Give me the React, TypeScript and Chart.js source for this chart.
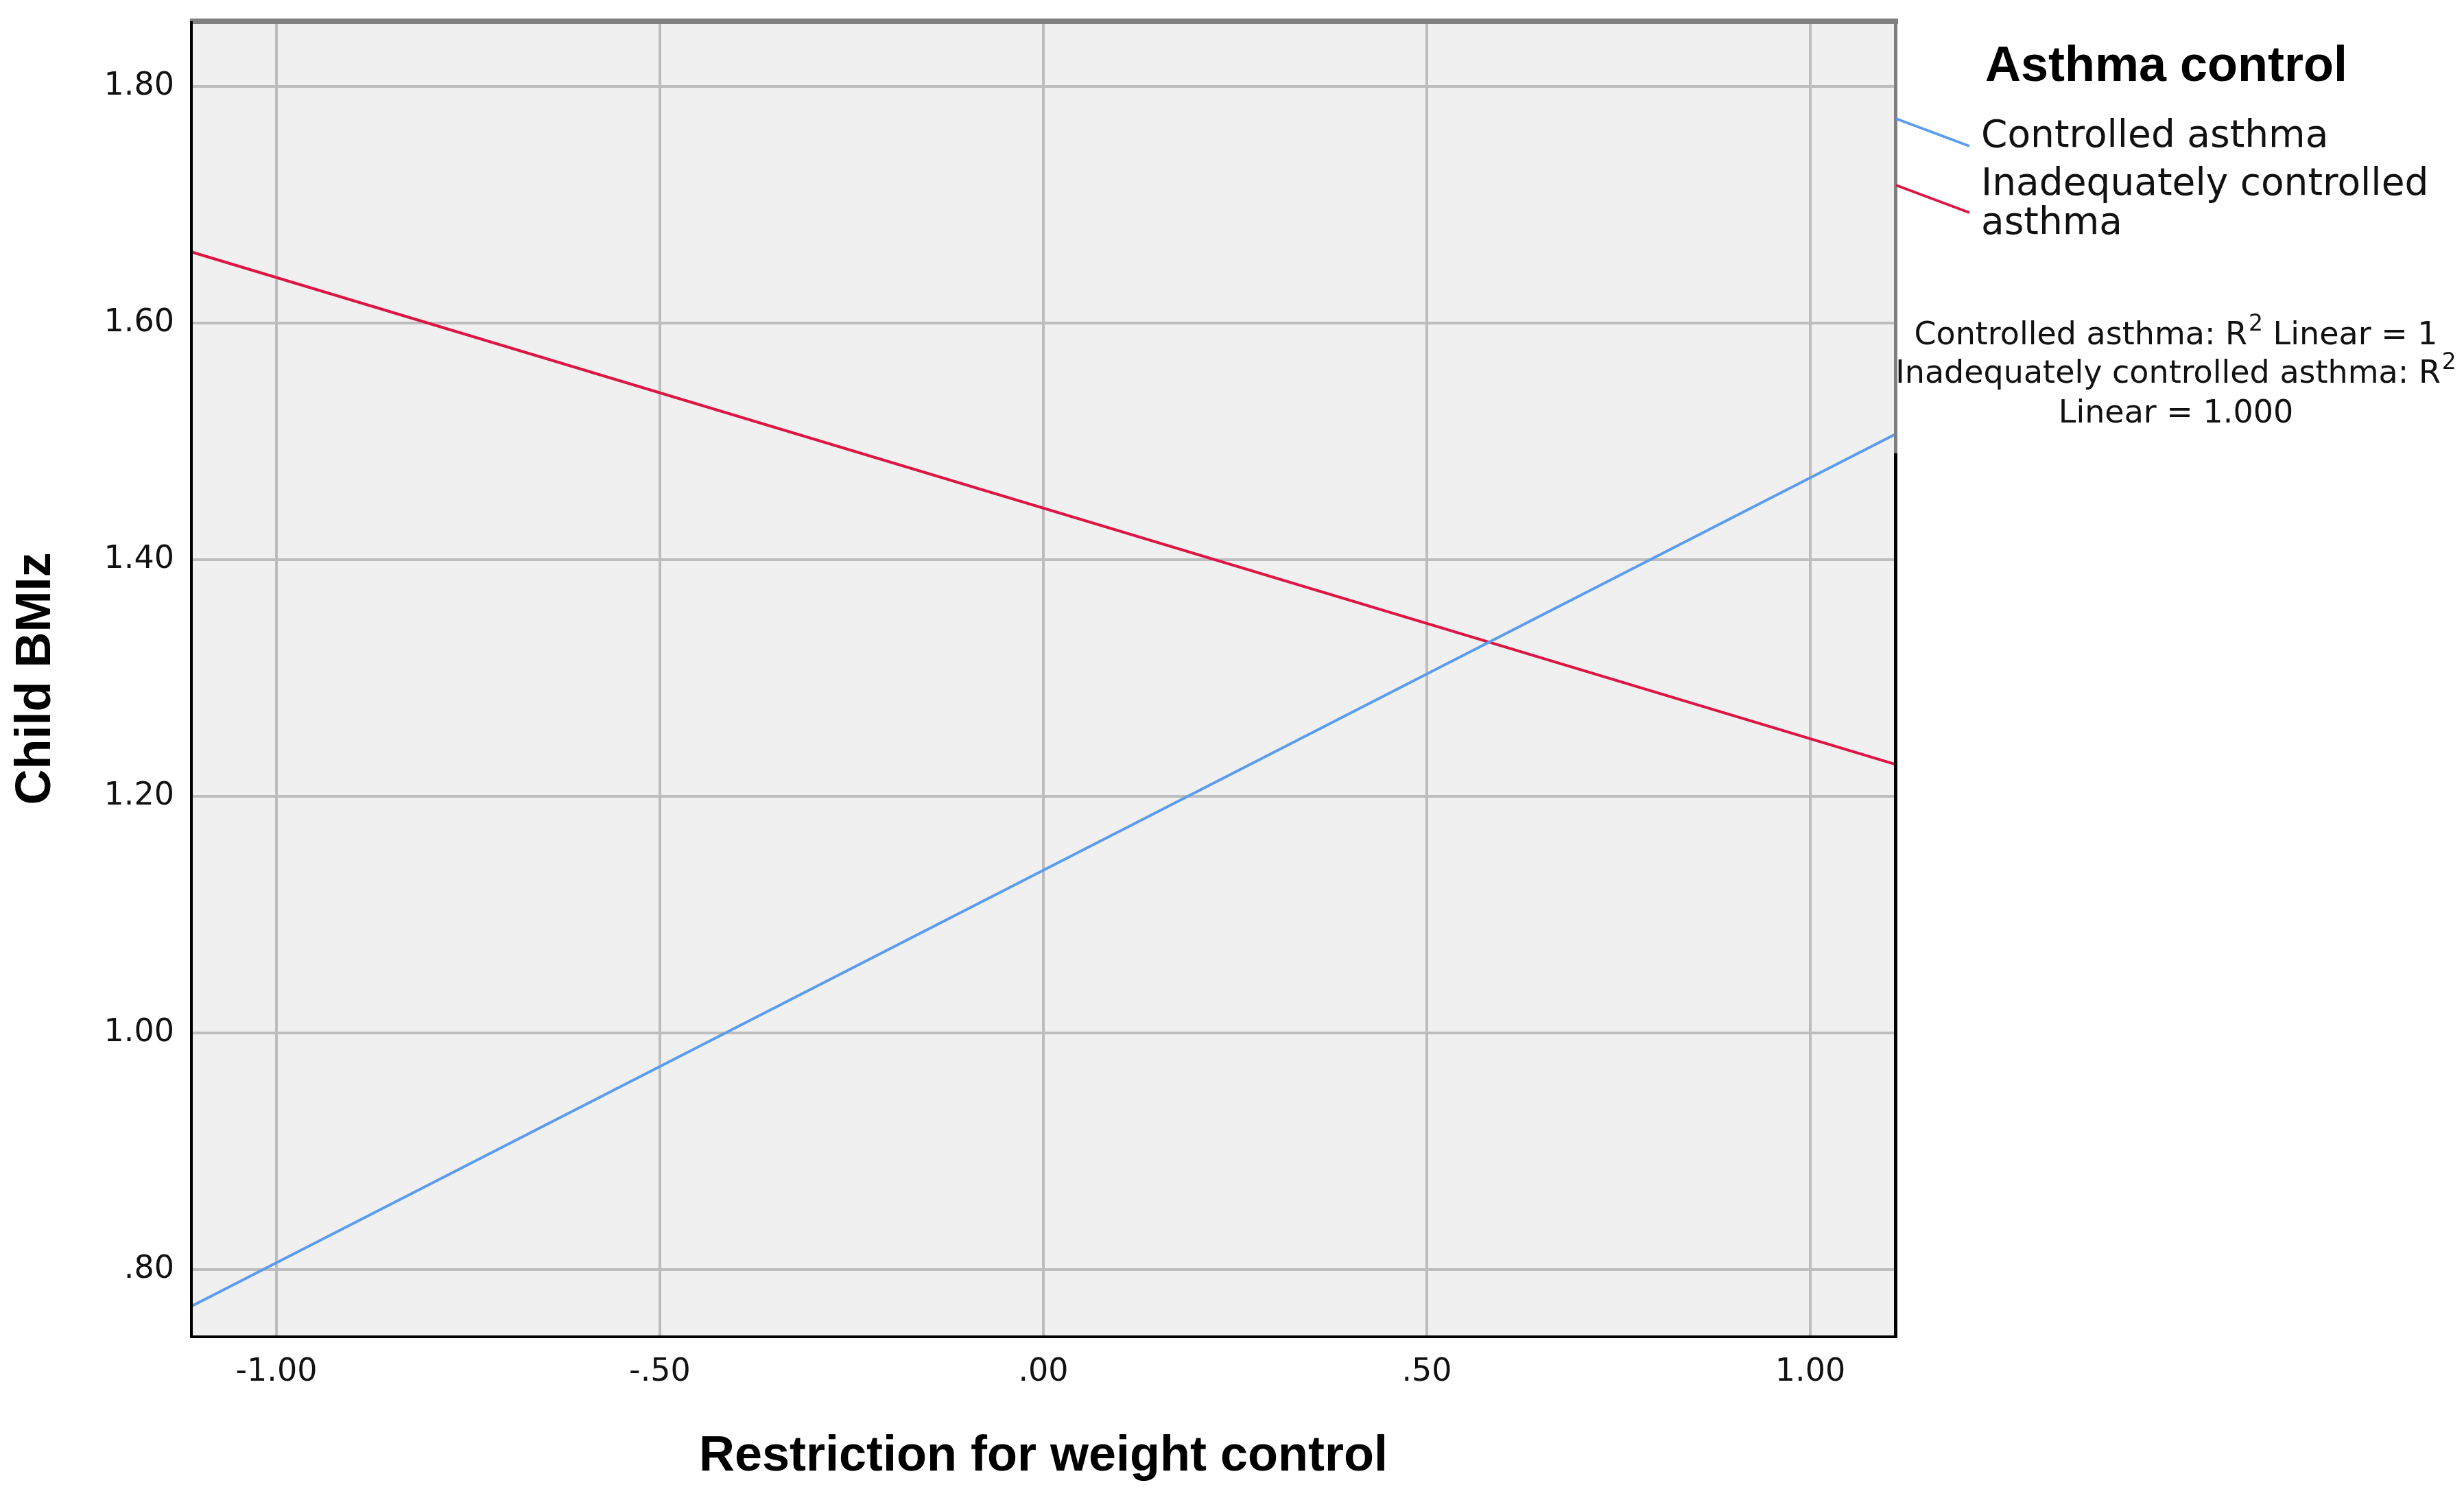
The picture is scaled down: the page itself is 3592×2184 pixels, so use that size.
import React, { useEffect, useRef } from "react";
import { Chart, registerables } from "chart.js";

Chart.register(...registerables);

// ---- data ----
const xEnds = [-1.111, 1.111];
const controlledBMIz = [0.769, 1.506];
const inadequateBMIz = [1.66, 1.227];
const seriesNames = ["Controlled asthma", "Inadequately controlled asthma"];
const seriesColors = ["#5a9cee", "#dd1543"];

const xTicks = [-1, -0.5, 0, 0.5, 1];
const xTickLabels = ["-1.00", "-.50", ".00", ".50", "1.00"];
const yTicks = [0.8, 1.0, 1.2, 1.4, 1.6, 1.8];
const yTickLabels = [".80", "1.00", "1.20", "1.40", "1.60", "1.80"];

const xTitle = "Restriction for weight control";
const yTitle = "Child BMIz";
const legendTitle = "Asthma control";
const legendLabelLines = [["Controlled asthma"], ["Inadequately controlled", "asthma"]];
// each note line: [text before superscript, superscript, text after]
const fitNoteLines = [
  ["Controlled asthma: R", "2", " Linear = 1"],
  ["Inadequately controlled asthma: R", "2", ""],
  ["Linear = 1.000", "", ""],
];

const TEXT = "#111111";
const TITLE_FONT = "'Liberation Sans', Arial, sans-serif";
const BODY_FONT = "'DejaVu Sans', sans-serif";

const framePlugin = {
  id: "spssFrame",
  beforeDraw(chart: any) {
    const { ctx, chartArea: a, width, height } = chart;
    ctx.save();
    ctx.fillStyle = "#ffffff";
    ctx.fillRect(0, 0, width, height);
    ctx.fillStyle = "#f0f0f0";
    ctx.fillRect(a.left, a.top, a.right - a.left, a.bottom - a.top);
    ctx.restore();
  },
  afterDatasetsDraw(chart: any) {
    const { ctx, chartArea: a } = chart;
    ctx.save();
    // top border (gray, thick)
    ctx.fillStyle = "#7f7f7f";
    ctx.fillRect(a.left - 2, a.top - 4, a.right - a.left + 6, 8);
    // right border: gray upper part, black lower part
    const split = chart.scales.y.getPixelForValue(1.49);
    ctx.fillRect(a.right - 2, a.top - 4, 5, split - a.top + 4);
    ctx.fillStyle = "#000000";
    ctx.fillRect(a.right - 2, split, 5, a.bottom - split + 3);
    // left + bottom border black
    ctx.fillRect(a.left - 2, a.top, 4, a.bottom - a.top + 3);
    ctx.fillRect(a.left - 2, a.bottom - 1, a.right - a.left + 5, 4);
    ctx.restore();
  },
  afterDraw(chart: any) {
    const { ctx, chartArea: a } = chart;
    ctx.save();
    // legend heading
    ctx.fillStyle = "#000";
    ctx.textBaseline = "alphabetic";
    ctx.textAlign = "left";
    ctx.font = `bold 72px ${TITLE_FONT}`;
    ctx.fillText(legendTitle, 2894, 118);

    // legend entries with slanted SPSS-style samples
    const sampleTops = [173, 270];
    const firstBaselines = [214, 283.5];
    ctx.font = `55px ${BODY_FONT}`;
    legendLabelLines.forEach((lines, i) => {
      ctx.strokeStyle = seriesColors[i];
      ctx.lineWidth = 4;
      ctx.beginPath();
      ctx.moveTo(a.right + 1, sampleTops[i]);
      ctx.lineTo(2871, sampleTops[i] + 40);
      ctx.stroke();
      ctx.fillStyle = TEXT;
      lines.forEach((t, j) => {
        ctx.fillText(t, 2888, firstBaselines[i] + j * 57.5);
      });
    });

    // R² notes, centred
    const cx = 3172;
    const baselines = [502, 558, 616];
    const mainFont = `46px ${BODY_FONT}`;
    const supFont = `33px ${BODY_FONT}`;
    fitNoteLines.forEach((parts, i) => {
      ctx.font = mainFont;
      const w0 = ctx.measureText(parts[0]).width;
      const w2 = ctx.measureText(parts[2]).width;
      ctx.font = supFont;
      const w1 = parts[1] ? ctx.measureText(parts[1]).width + 2 : 0;
      let x = cx - (w0 + w1 + w2) / 2;
      ctx.fillStyle = TEXT;
      ctx.font = mainFont;
      ctx.fillText(parts[0], x, baselines[i]);
      x += w0;
      if (parts[1]) {
        ctx.font = supFont;
        ctx.fillText(parts[1], x + 2, baselines[i] - 20);
        x += w1;
      }
      ctx.font = mainFont;
      if (parts[2]) ctx.fillText(parts[2], x, baselines[i]);
    });
    ctx.restore();
  },
};

export default function App() {
  const canvasRef = useRef<HTMLCanvasElement | null>(null);

  useEffect(() => {
    const canvas = canvasRef.current;
    if (!canvas) return;
    const chart = new Chart(canvas, {
      type: "line",
      data: {
        datasets: [
          {
            label: seriesNames[0],
            data: xEnds.map((x, i) => ({ x, y: controlledBMIz[i] })),
            borderColor: seriesColors[0],
            borderWidth: 4,
            pointRadius: 0,
            tension: 0,
          },
          {
            label: seriesNames[1],
            data: xEnds.map((x, i) => ({ x, y: inadequateBMIz[i] })),
            borderColor: seriesColors[1],
            borderWidth: 4,
            pointRadius: 0,
            tension: 0,
          },
        ],
      },
      options: {
        responsive: false,
        devicePixelRatio: 1,
        animation: false,
        layout: { padding: { left: 0, top: 31, right: 3592 - 2763, bottom: 0 } },
        plugins: { legend: { display: false }, tooltip: { enabled: false } },
        scales: {
          x: {
            type: "linear",
            min: -1.1109,
            max: 1.1109,
            afterFit: (s: any) => {
              s.height = 236;
              s.paddingLeft = 0;
              s.paddingRight = 0;
            },
            afterBuildTicks: (s: any) => {
              s.ticks = xTicks.map((v) => ({ value: v }));
            },
            grid: { color: "#bdbdbd", lineWidth: 4, drawTicks: false },
            border: { display: false },
            ticks: {
              padding: 25,
              color: TEXT,
              font: { family: BODY_FONT, size: 46, lineHeight: 1.2 },
              callback: (v: any) => {
                const i = xTicks.findIndex((t) => Math.abs(t - v) < 1e-9);
                return i >= 0 ? xTickLabels[i] : "";
              },
              maxRotation: 0,
            },
            title: {
              display: true,
              text: xTitle,
              color: "#000",
              font: { family: TITLE_FONT, size: 72, weight: "bold", lineHeight: 1 },
              padding: { top: 0, bottom: 24 },
            },
          },
          y: {
            type: "linear",
            min: 0.7438,
            max: 1.8549,
            afterFit: (s: any) => {
              s.width = 279;
              s.paddingTop = 0;
              s.paddingBottom = 0;
            },
            afterBuildTicks: (s: any) => {
              s.ticks = yTicks.map((v) => ({ value: v }));
            },
            grid: { color: "#bdbdbd", lineWidth: 4, drawTicks: false },
            border: { display: false },
            ticks: {
              padding: 25,
              color: TEXT,
              font: { family: BODY_FONT, size: 46, lineHeight: 1.2 },
              callback: (v: any) => {
                const i = yTicks.findIndex((t) => Math.abs(t - v) < 1e-9);
                return i >= 0 ? yTickLabels[i] : "";
              },
            },
            title: {
              display: true,
              text: yTitle,
              color: "#000",
              font: { family: TITLE_FONT, size: 72, weight: "bold", lineHeight: 1 },
              padding: { top: 17, bottom: 0 },
            },
          },
        },
      },
      plugins: [framePlugin],
    });
    return () => chart.destroy();
  }, []);

  return (
    <div style={{ position: "fixed", left: 0, top: 0, width: 3592, height: 2184, background: "#fff" }}>
      <canvas ref={canvasRef} width={3592} height={2184} style={{ display: "block", width: 3592, height: 2184 }} />
    </div>
  );
}
